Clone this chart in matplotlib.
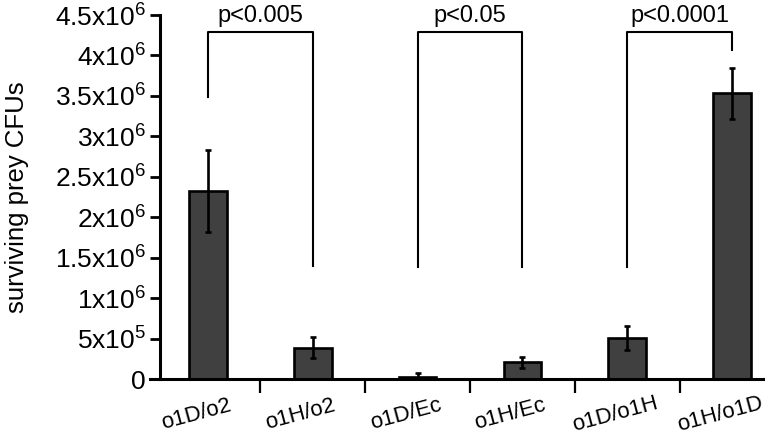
import numpy as np
import matplotlib
matplotlib.use("Agg")
import matplotlib.pyplot as plt
from matplotlib.transforms import ScaledTranslation

# ---- data ----
categories = ["o1D/o2", "o1H/o2", "o1D/Ec", "o1H/Ec", "o1D/o1H", "o1H/o1D"]
means = [2.32e6, 3.89e5, 2.8e4, 2.06e5, 5.11e5, 3.53e6]
errors = [5.05e5, 1.28e5, 5.0e4, 7.2e4, 1.5e5, 3.15e5]
ytick_values = [0, 5e5, 1e6, 1.5e6, 2e6, 2.5e6, 3e6, 3.5e6, 4e6, 4.5e6]
ytick_labels = ["0", "5x10$^{\\mathregular{5}}$", "1x10$^{\\mathregular{6}}$",
                "1.5x10$^{\\mathregular{6}}$", "2x10$^{\\mathregular{6}}$",
                "2.5x10$^{\\mathregular{6}}$", "3x10$^{\\mathregular{6}}$",
                "3.5x10$^{\\mathregular{6}}$", "4x10$^{\\mathregular{6}}$",
                "4.5x10$^{\\mathregular{6}}$"]
# significance brackets: (left bar, right bar, top, left leg end, right leg end, label)
brackets = [(0, 1, 4.29e6, 3.49e6, 1.40e6, "p<0.005"),
            (2, 3, 4.29e6, 1.39e6, 1.39e6, "p<0.05"),
            (4, 5, 4.29e6, 1.39e6, 4.07e6, "p<0.0001")]
ylabel = "surviving prey CFUs"

plt.rcParams['font.family'] = ['Liberation Sans', 'DejaVu Sans']
plt.rcParams['mathtext.fontset'] = 'custom'
plt.rcParams['mathtext.rm'] = 'Liberation Sans'
plt.rcParams['mathtext.it'] = 'Liberation Sans:italic'
plt.rcParams['mathtext.bf'] = 'Liberation Sans:bold'

W, H = 767, 436
fig = plt.figure(figsize=(W / 100, H / 100), dpi=100)
ax = fig.add_axes([150 / W, 57 / H, 613 / W, 364 / H])

x = np.arange(len(categories))
ax.bar(x, means, width=0.36, color="#404040", edgecolor="black",
       linewidth=1.9, zorder=2)
ax.errorbar(x, means, yerr=errors, fmt="none", ecolor="black",
            elinewidth=1.9, capsize=2.3, capthick=1.9, zorder=3)

ax.set_xlim(-0.5534, 5.296)
ax.set_ylim(0, 4.5e6)

for s in ["top", "right"]:
    ax.spines[s].set_visible(False)
ax.spines["left"].set_position(("data", -0.458))
ax.spines["left"].set_linewidth(2.2)
ax.spines["bottom"].set_linewidth(2.2)

ax.set_yticks(ytick_values)
ax.set_yticklabels(ytick_labels)
ax.tick_params(axis="y", length=7.2, width=2.0, pad=3, labelsize=19)

ax.set_xticks(x[:-1] + 0.5)
ax.set_xticklabels([])
ax.tick_params(axis="x", length=10, width=1.6)

offset = ScaledTranslation(-0.12, -0.355, fig.dpi_scale_trans)
for xi, lab in zip(x, categories):
    ax.text(xi, 0, lab, transform=ax.get_xaxis_transform() + offset,
            rotation=15, rotation_mode="anchor", ha="center", va="center",
            fontsize=16)

ax.set_ylabel(ylabel, fontsize=18.5)
ax.yaxis.set_label_coords(-0.197, 0.5)

for i0, i1, top, l0, l1, lab in brackets:
    ax.plot([x[i0], x[i0], x[i1], x[i1]], [l0, top, top, l1],
            color="black", linewidth=1.5, clip_on=False, zorder=4)
    ax.text((x[i0] + x[i1]) / 2, top + 0.06e6, lab, ha="center",
            va="bottom", fontsize=17)

fig.savefig("out.png", dpi=100)
